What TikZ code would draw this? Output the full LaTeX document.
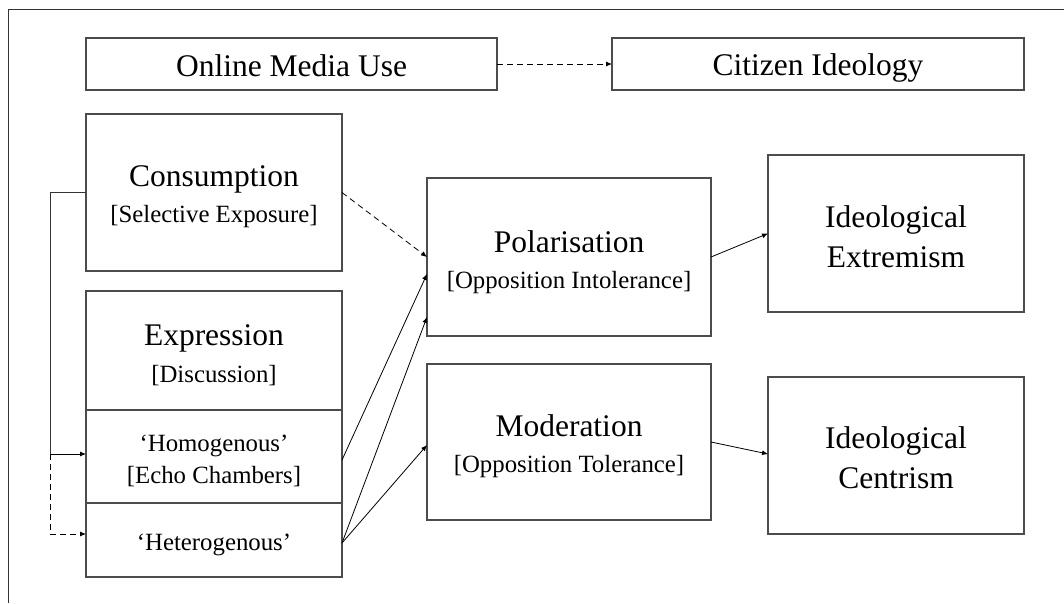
\documentclass[tikz,border=0pt]{standalone}
\usepackage{fontspec}
\setmainfont{Liberation Serif}
\usetikzlibrary{arrows.meta,calc}
\newcommand\mainf{\fontsize{31.5}{40}\selectfont}
\newcommand\subf{\fontsize{24.8}{32}\selectfont}
\begin{document}
\begin{tikzpicture}[x=1pt,y=-1pt,
  box/.style={draw=black!70,line width=1.1pt,inner sep=0pt,outer sep=0pt},
  txt/.style={inner sep=0pt,outer sep=0pt,align=center,font=\mainf},
  subtxt/.style={txt,font=\subf},
  frame/.style={draw=black!80,line width=1pt},
  arr/.style={-{Latex[length=6pt,width=5pt]},line width=0.8pt,draw=black},
  darr/.style={arr,dash pattern=on 6pt off 4pt},
  plain/.style={line width=0.8pt,draw=black!80}]
\useasboundingbox (0,0) rectangle (1064,603);
\draw[frame] (8,603) -- (8,9) -- (1064,9);

% boxes
\node[box,minimum width=411pt,minimum height=52pt] (omu) at (291.5,64) {};
\node[box,minimum width=412pt,minimum height=52pt] (ci) at (818,64) {};
\node[box,minimum width=256pt,minimum height=157pt] (con) at (214,192.5) {};
\node[box,minimum width=256pt,minimum height=119pt] (exp) at (214,350.5) {};
\node[box,minimum width=256pt,minimum height=93pt] (hom) at (214,456.5) {};
\node[box,minimum width=256pt,minimum height=74pt] (het) at (214,540) {};
\node[box,minimum width=284pt,minimum height=158pt] (pol) at (569,257) {};
\node[box,minimum width=284pt,minimum height=156pt] (mod) at (569,442) {};
\node[box,minimum width=256pt,minimum height=157pt] (ext) at (896,233.5) {};
\node[box,minimum width=256pt,minimum height=157pt] (cen) at (896,455.5) {};

% texts
\node[txt,anchor=base] (omut) at (291.5,76) {Online Media Use};
\node[txt,anchor=base] (cit) at (818,75.5) {Citizen Ideology};
\node[txt] (cont) at ($(con.center)+(0,4.5)$) {Consumption\\[-4pt]{\subf [Selective Exposure]}};
\node[txt] (expt) at ($(exp.center)+(0,5)$) {Expression\\[-3pt]{\subf [Discussion]}};
\node[subtxt] (homt) at ($(hom.center)+(0,4.5)$) {‘Homogenous’\\{[Echo Chambers]}};
\node[subtxt,anchor=base] (hett) at ($(het.west)!0.5!(het.east)+(0,10)$) {‘Heterogenous’};
\node[txt] (polt) at ($(pol.center)+(0,5)$) {Polarisation\\[-4pt]{\subf [Opposition Intolerance]}};
\node[txt] (modt) at ($(mod.center)+(0,4)$) {Moderation\\[-4pt]{\subf [Opposition Tolerance]}};
\node[txt] (extt) at ($(ext.center)+(0,3)$) {Ideological\\Extremism};
\node[txt] (cent) at ($(cen.center)+(0,2.5)$) {Ideological\\Centrism};

% connectors
\draw[darr] (omu.east) -- (ci.west);
\draw[darr] (con.east) -- (pol.west);
\draw[arr] ($(hom.east)+(0,3.5)$) -- ($(pol.west)+(0,17)$);
\draw[arr] ($(het.east)+(0,3)$) -- ($(pol.west)+(0,60)$);
\draw[arr] ($(het.east)+(0,3)$) -- ($(mod.west)+(0,3)$);
\draw[arr] (pol.east) -- (ext.west);
\draw[arr] (mod.east) -- ($(cen.west)+(0,-1.5)$);

\coordinate (jn) at ($(con.west)+(-36,0)$);
\coordinate (jh) at ($(jn |- hom.west)+(0,-2.5)$);
\draw[plain] (con.west) -- (jn) -- (jh);
\draw[arr] (jh) -- ($(hom.west)+(0,-2.5)$);
\draw[darr] (jh) |- ($(het.west)+(0,-6)$);
\end{tikzpicture}
\end{document}
